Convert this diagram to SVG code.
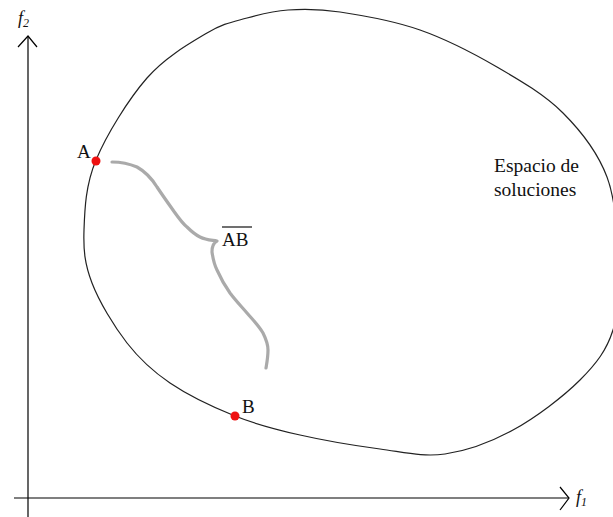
<svg xmlns="http://www.w3.org/2000/svg" width="613" height="517" viewBox="0 0 613 517">
<style>
.lbl{font-family:"Liberation Serif","Times New Roman",serif;fill:#111;}
.ax{stroke:#000;stroke-width:1.2;fill:none;}
.dot{fill:#ee1111;}
</style>
<rect width="613" height="517" fill="#fff"/>
<g id="axes">
<line class="ax" x1="28" y1="36" x2="28" y2="517"/>
<polyline class="ax" points="18,47 28,36 37,47"/>
<line class="ax" x1="14" y1="498" x2="568" y2="498"/>
<polyline class="ax" points="560,487 569,498 560,510"/>
<text class="lbl" x="18" y="24" font-size="18" font-style="italic">f<tspan font-size="12" dy="3">2</tspan></text>
<text class="lbl" x="576" y="503" font-size="18" font-style="italic">f<tspan font-size="12" dy="3">1</tspan></text>
</g>
<g id="space">
<path fill="none" stroke="#222" stroke-width="1.2" d="M288,10 C303.5,9 318,8.7 340,12 C362,15.3 393.8,20.8 420,30 C446.2,39.2 473.2,53.2 497,67 C520.8,80.8 544.7,94.7 563,113 C581.3,131.3 597.8,152.5 607,177 C616.2,201.5 617,234.5 618,260 C619,285.5 619.3,310 613,330 C606.7,350 596.7,363.3 580,380 C563.3,396.7 535.5,417.7 513,430 C490.5,442.3 467.2,450.8 445,454 C422.8,457.2 404.2,452.2 380,449 C355.8,445.8 324.2,440.5 300,435 C275.8,429.5 256.7,424.7 235,416 C213.3,407.3 188,395.2 170,383 C152,370.8 140,359.7 127,343 C114,326.3 99.2,301.8 92,283 C84.8,264.2 83.3,250.5 84,230 C84.7,209.5 85.5,185.3 96,160 C106.5,134.7 128.5,99.2 147,78 C165.5,56.8 190.3,43 207,33 C223.7,23 233.5,21.8 247,18 C260.5,14.2 272.5,11 288,10 Z"/>
<text class="lbl" x="494" y="172" font-size="19.5">Espacio de</text>
<text class="lbl" x="494" y="196" font-size="19.5">soluciones</text>
</g>
<g id="connectors">
<path fill="none" stroke="#aaa" stroke-width="3.2" stroke-linecap="round" stroke-linejoin="round" d="M112,162 C122,162 130,164 137,167 C146,172 152,179 157,187 C163,196 168,203 173,210 C178,217 182,223 187,227 C192,232 196,235 200,237 C206,240 211,240 217,241 C213,243 212,247 212,252 C213,259 214,264 217,270 C221,279 225,286 230,293 C236,301 241,306 247,313 C253,320 259,326 263,333 C266,339 268,344 268,350 C268,357 267,362 266,368"/>
</g>
<g id="nodeA">
<circle class="dot" cx="96" cy="161" r="4.5"/>
<text class="lbl" x="77" y="158" font-size="19">A</text>
</g>
<g id="nodeB">
<circle class="dot" cx="235" cy="416" r="4.5"/>
<text class="lbl" x="242" y="413" font-size="19">B</text>
</g>
<g id="labelAB">
<text class="lbl" x="222" y="246" font-size="19">AB</text>
<line x1="222" y1="227" x2="252" y2="227" stroke="#111" stroke-width="1.2"/>
</g>
</svg>
